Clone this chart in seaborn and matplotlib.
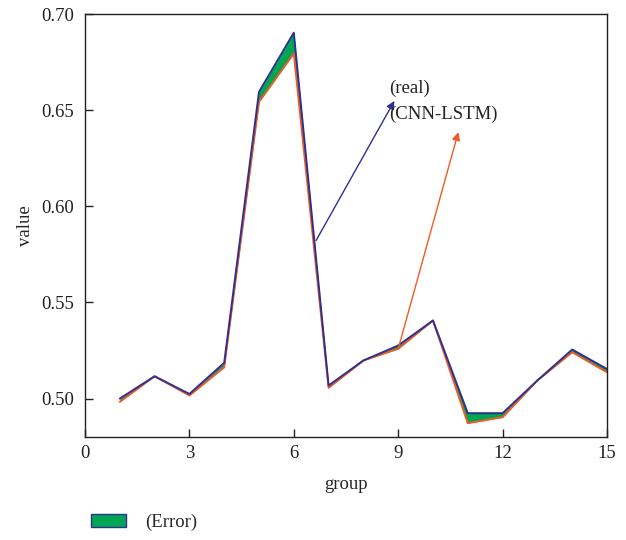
import matplotlib
matplotlib.use("Agg")
import matplotlib.pyplot as plt
import seaborn as sns
import pandas as pd
from matplotlib.patches import Patch

groups = [1, 2, 3, 4, 5, 6, 7, 8, 9, 10, 11, 12, 13, 14, 15]
real = [0.5000, 0.5116, 0.5024, 0.5186, 0.6595, 0.6903, 0.5068, 0.5198, 0.5276,
        0.5406, 0.4924, 0.4924, 0.5094, 0.5255, 0.5154]
cnn_lstm = [0.4983, 0.5116, 0.5016, 0.5163, 0.6543, 0.6795, 0.5056, 0.5198, 0.5259,
            0.5406, 0.4872, 0.4903, 0.5094, 0.5241, 0.5137]
x_ticks = [0, 3, 6, 9, 12, 15]
y_ticks = [0.50, 0.55, 0.60, 0.65, 0.70]

BLUE = "#2e3192"
RED = "#f15a24"
GREEN = "#00a651"
FS = 13.5

sns.set_style("ticks")
plt.rcParams["font.family"] = ["Liberation Serif", "DejaVu Serif"]

df = pd.DataFrame({"group": groups, "real": real, "cnn": cnn_lstm})

fig = plt.figure(figsize=(6.26, 5.40), dpi=100)
ax = fig.add_axes([0.1358, 0.1907, 0.8338, 0.7833])

ax.fill_between(df["group"], df["cnn"], df["real"], color=GREEN, linewidth=0, zorder=1)
sns.lineplot(data=df, x="group", y="cnn", color=RED, linewidth=1.4, ax=ax, zorder=2)
sns.lineplot(data=df, x="group", y="real", color=BLUE, linewidth=1.4, ax=ax, zorder=3)

ax.set_xlim(0, 15)
ax.set_ylim(0.48, 0.70)
ax.set_xticks(x_ticks)
ax.set_xticklabels([str(t) for t in x_ticks])
ax.set_yticks(y_ticks)
ax.set_yticklabels([f"{t:.2f}" for t in y_ticks])
ax.tick_params(direction="in", length=6, width=1, labelsize=FS, colors="#222222")
ax.tick_params(axis="x", pad=6)
ax.tick_params(axis="y", pad=8)
for s in ax.spines.values():
    s.set_linewidth(1.0)
    s.set_color("#222222")
ax.set_xlabel("group", fontsize=FS, labelpad=10)
ax.set_ylabel("value", fontsize=FS, labelpad=5)

# annotations
ax.annotate("", xy=(8.93, 0.6561), xytext=(6.60, 0.5809),
            arrowprops=dict(arrowstyle="-|>", color=BLUE, lw=1.0, mutation_scale=12))
ax.annotate("", xy=(10.75, 0.6400), xytext=(9.0, 0.5259),
            arrowprops=dict(arrowstyle="-|>", color=RED, lw=1.0, mutation_scale=12))
ax.text(8.73, 0.6570, "(real)", fontsize=FS, color="#222222", va="bottom", ha="left")
ax.text(8.73, 0.6480, "(CNN-LSTM)", fontsize=FS, color="#222222", va="center", ha="left")

handle = Patch(facecolor=GREEN, edgecolor=BLUE, linewidth=1.0)
fig.legend([handle], ["(Error)"], loc="center left", bbox_to_anchor=(0.118, 0.033),
           frameon=False, fontsize=FS, handlelength=1.9, handleheight=0.7, handletextpad=1.0)

fig.savefig("out.png", dpi=100)
